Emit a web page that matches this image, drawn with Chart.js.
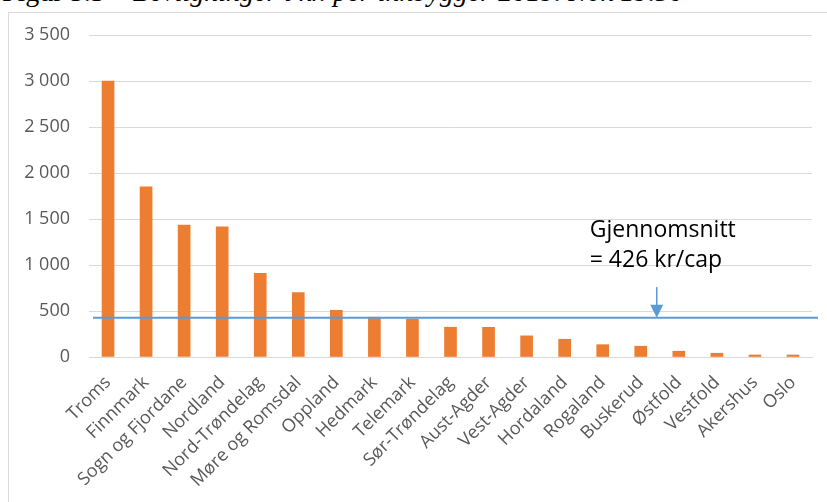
<!DOCTYPE html>
<html>
<head>
<meta charset="utf-8">
<script src="https://cdn.jsdelivr.net/npm/chart.js@4/dist/chart.umd.min.js"></script>
<style>
  html, body { margin: 0; padding: 0; background: #fff; }
  #wrap { position: relative; width: 827px; height: 502px; overflow: hidden; }
  #title { position: absolute; left: 2px; top: -22px; font-family: "Liberation Serif", serif; font-size: 28px; line-height: 28px; white-space: nowrap; color: #000; }
  #title i { font-style: italic; }
  canvas { position: absolute; left: 0; top: 0; }
</style>
</head>
<body>
<div id="wrap">
  <div id="title">Figur 5.3 – <i>Bevilgninger i kr. per innbygger 2019. Nok 19.50</i></div>
  <canvas id="c" width="827" height="502"></canvas>
</div>
<script>
// Counties, ordered by grant per inhabitant
const categories = ["Troms", "Finnmark", "Sogn og Fjordane", "Nordland", "Nord-Trøndelag",
  "Møre og Romsdal", "Oppland", "Hedmark", "Telemark", "Sør-Trøndelag", "Aust-Agder",
  "Vest-Agder", "Hordaland", "Rogaland", "Buskerud", "Østfold", "Vestfold", "Akershus", "Oslo"];
// kr per inhabitant
const values = [3000, 1850, 1435, 1415, 910, 700, 508, 433, 411, 324, 323,
  230, 193, 134, 117, 63, 41, 22, 22];
// national average, kr per inhabitant
const averageValue = 426;
const averageLabel = ["Gjennomsnitt", "= 426 kr/cap"];
const yTicks = [0, 500, 1000, 1500, 2000, 2500, 3000, 3500];

const fmt = v => String(v).replace(/\B(?=(\d{3})+(?!\d))/g, " ");

// frame around the chart object
const framePlugin = {
  id: "frame",
  beforeDraw(chart) {
    const ctx = chart.ctx;
    ctx.save();
    ctx.strokeStyle = "#D9D9D9";
    ctx.lineWidth = 1;
    ctx.strokeRect(8.5, 12.5, 900, 600);
    ctx.restore();
  }
};

// average line with arrow and caption
const averagePlugin = {
  id: "average",
  afterDatasetsDraw(chart) {
    const ctx = chart.ctx;
    const ys = chart.scales.y;
    const y = ys.getPixelForValue(averageValue);
    const x = chart.scales.x;
    const area = chart.chartArea;
    ctx.save();
    ctx.strokeStyle = "#5B9BD5";
    ctx.lineWidth = 2;
    ctx.beginPath();
    ctx.moveTo(area.left + 4, y);
    ctx.lineTo(area.right + 6, y);
    ctx.stroke();

    // arrow pointing at the line
    const ax = x.getPixelForValue(14) + 0.42 * (x.getPixelForValue(15) - x.getPixelForValue(14));
    const top = ys.getPixelForValue(760);
    ctx.lineWidth = 1.5;
    ctx.beginPath();
    ctx.moveTo(ax, top);
    ctx.lineTo(ax, y - 12);
    ctx.stroke();
    ctx.fillStyle = "#5B9BD5";
    ctx.beginPath();
    ctx.moveTo(ax - 6.5, y - 13);
    ctx.lineTo(ax + 6.5, y - 13);
    ctx.lineTo(ax, y);
    ctx.closePath();
    ctx.fill();

    // caption
    ctx.fillStyle = "#000";
    ctx.font = "23px 'Open Sans'";
    ctx.textBaseline = "alphabetic";
    ctx.textAlign = "left";
    const tx = ax - 67;
    ctx.fillText(averageLabel[0], tx, ys.getPixelForValue(1305));
    ctx.fillText(averageLabel[1], tx, ys.getPixelForValue(975));
    ctx.restore();
  }
};

new Chart(document.getElementById("c"), {
  type: "bar",
  data: {
    labels: categories,
    datasets: [{
      data: values,
      backgroundColor: "#ED7D31",
      borderWidth: 0,
      barThickness: 12
    }]
  },
  options: {
    responsive: false,
    animation: false,
    devicePixelRatio: 1,
    layout: { padding: { left: 19, right: 15, top: 35, bottom: 15 } },
    plugins: { legend: { display: false }, tooltip: { enabled: false } },
    scales: {
      x: {
        grid: { display: false, drawTicks: false },
        border: { color: "#D9D9D9", width: 1 },
        ticks: {
          color: "#595959",
          font: { family: "Open Sans", size: 18 },
          maxRotation: 45, minRotation: 45,
          padding: 15,
          autoSkip: false
        },
        afterFit(s) { s.height = 130; }
      },
      y: {
        min: 0, max: 3500,
        afterBuildTicks(s) { s.ticks = yTicks.map(v => ({ value: v })); },
        grid: { color: "#D9D9D9", lineWidth: 1, drawTicks: false },
        border: { display: false },
        ticks: {
          color: "#595959",
          font: { family: "Open Sans", size: 18 },
          padding: 19,
          callback: v => fmt(v)
        },
        afterFit(s) { s.width = 70; }
      }
    }
  },
  plugins: [framePlugin, averagePlugin]
});
</script>
</body>
</html>
